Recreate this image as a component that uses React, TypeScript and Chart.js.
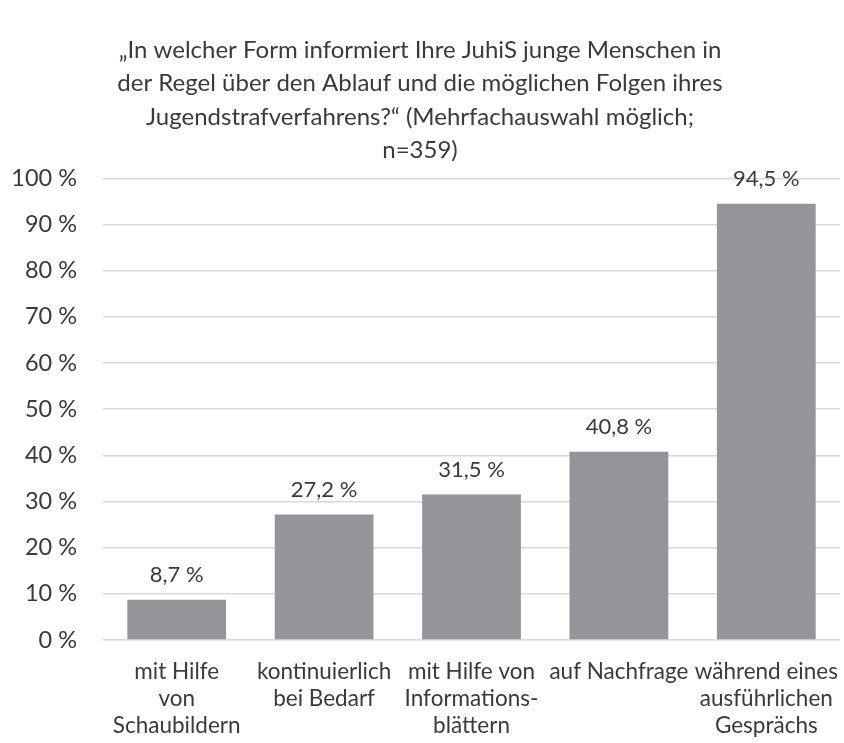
import React, { useEffect, useRef } from "react";
import { Chart, registerables } from "chart.js";

Chart.register(...registerables);

const titleLines = [
  "„In welcher Form informiert Ihre JuhiS junge Menschen in",
  "der Regel über den Ablauf und die möglichen Folgen ihres",
  "Jugendstrafverfahrens?“ (Mehrfachauswahl möglich;",
  "n=359)",
];

const categories = [
  ["mit Hilfe", "von", "Schaubildern"],
  ["kontinuierlich", "bei Bedarf"],
  ["mit Hilfe von", "Informations-", "blättern"],
  ["auf Nachfrage"],
  ["während eines", "ausführlichen", "Gesprächs"],
];

const values = [8.7, 27.2, 31.5, 40.8, 94.5];

const FONT = "Lato";
const TEXT = "#3a3a3a";

const dataLabels = {
  id: "dataLabels",
  afterDatasetsDraw(chart: any) {
    const ctx = chart.ctx;
    const meta = chart.getDatasetMeta(0);
    ctx.save();
    ctx.font = `22px ${FONT}`;
    ctx.fillStyle = TEXT;
    ctx.textAlign = "center";
    ctx.textBaseline = "middle";
    meta.data.forEach((bar: any, i: number) => {
      const v = values[i];
      const txt = v.toFixed(1).replace(".", ",") + " %";
      ctx.fillText(txt, bar.x, bar.y - 25);
    });
    ctx.restore();
  },
};

export default function App() {
  const ref = useRef<HTMLCanvasElement>(null);
  useEffect(() => {
    document.body.style.margin = "0";
    const chart = new Chart(ref.current!, {
      type: "bar",
      data: {
        labels: categories,
        datasets: [
          {
            data: values,
            backgroundColor: "#939598",
            categoryPercentage: 0.67,
            barPercentage: 1,
          },
        ],
      },
      options: {
        animation: false,
        responsive: false,
        layout: { padding: { left: 0, right: 4, top: 0, bottom: 0 } },
        plugins: {
          legend: { display: false },
          tooltip: { enabled: false },
          title: {
            display: true,
            text: titleLines,
            color: TEXT,
            font: { family: FONT, size: 24, weight: "normal", lineHeight: 1.4 },
            padding: { top: 33, bottom: 11 },
          },
        },
        scales: {
          x: {
            grid: { display: false },
            border: { display: false },
            ticks: {
              color: TEXT,
              font: { family: FONT, size: 22.5, lineHeight: 1.2 },
              maxRotation: 0,
              autoSkip: false,
              padding: 10,
            },
            afterFit: (s: any) => {
              s.height = 103;
              s.paddingLeft = 0;
              s.paddingRight = 0;
            },
          },
          y: {
            min: 0,
            max: 100,
            grid: { color: "#d9d9d9", lineWidth: 1.5, drawTicks: false },
            border: { display: false },
            ticks: {
              stepSize: 10,
              color: TEXT,
              font: { family: FONT, size: 23.5 },
              padding: 26,
              callback: (v: any) => v + " %",
            },
            afterFit: (s: any) => {
              s.width = 103;
            },
          },
        },
      },
      plugins: [dataLabels],
    });
    return () => chart.destroy();
  }, []);
  return <canvas ref={ref} width={844} height={743} style={{ display: "block" }} />;
}
